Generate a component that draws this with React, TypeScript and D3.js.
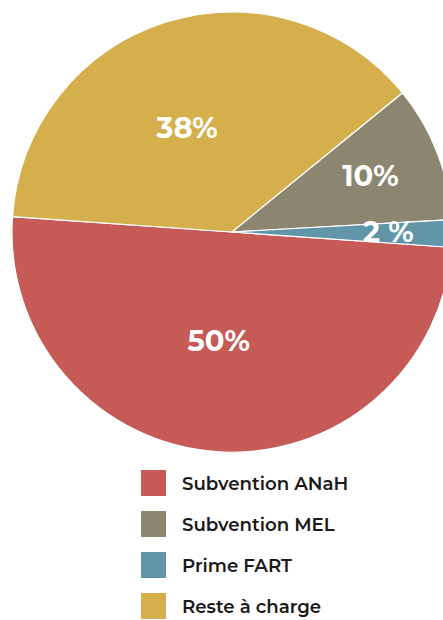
import React from "react";
import * as d3 from "d3";

const categories = ["Subvention ANaH", "Subvention MEL", "Prime FART", "Reste à charge"];
const values = [50, 10, 2, 38];
const sliceLabels = ["50%", "10%", "2 %", "38%"];
const colors = ["#C65A57", "#8C8670", "#6196A9", "#D4AF4C"];
// drawing order around the circle, clockwise from the red slice
const pieOrder = [0, 3, 1, 2];

const width = 443;
const height = 620;
const cx = 232;
const cy = 232;
const radius = 220;

const App: React.FC = () => {
  const ordered = pieOrder.map((i) => ({ i, value: values[i] }));
  const pie = d3
    .pie<{ i: number; value: number }>()
    .sort(null)
    .value((d) => d.value)
    .startAngle((94 * Math.PI) / 180)
    .endAngle((94 * Math.PI) / 180 + 2 * Math.PI);
  const arcs = pie(ordered);
  const arc = d3
    .arc<d3.PieArcDatum<{ i: number; value: number }>>()
    .innerRadius(0)
    .outerRadius(radius);

  // label placement: radius (fraction) and angle shift (deg) per slice
  const labelR: Record<number, number> = { 0: 0.495, 3: 0.515, 1: 0.68, 2: 0.71 };
  const labelShift: Record<number, number> = { 0: 3, 3: -5.8, 1: -1, 2: -0.4 };

  const legendY = d3.scalePoint<string>().domain(categories).range([483, 606]);

  return (
    <svg
      width={width}
      height={height}
      style={{ position: "absolute", left: 0, top: 0 }}
    >
      <g transform={`translate(${cx},${cy})`}>
        {arcs.map((a) => (
          <path
            key={a.data.i}
            d={arc(a) || ""}
            fill={colors[a.data.i]}
            stroke="#fff"
            strokeWidth={1.2}
          />
        ))}
        {arcs.map((a) => {
          const mid =
            (a.startAngle + a.endAngle) / 2 + (labelShift[a.data.i] * Math.PI) / 180;
          const r = radius * labelR[a.data.i];
          const x = Math.sin(mid) * r;
          const y = -Math.cos(mid) * r;
          return (
            <text
              key={"l" + a.data.i}
              x={x}
              y={y}
              dy="0.36em"
              textAnchor="middle"
              fill="#fff"
              fontFamily="Montserrat, 'Noto Sans', sans-serif"
              fontWeight={700}
              fontSize={29}
            >
              {sliceLabels[a.data.i]}
            </text>
          );
        })}
      </g>
      {categories.map((c, i) => (
        <g key={c} transform={`translate(141,${legendY(c)})`}>
          <rect x={0} y={-13} width={25} height={26} fill={colors[i]} />
          <text
            x={41}
            y={0}
            dy="0.36em"
            fill="#1a1a1a"
            fontFamily="Montserrat, 'Noto Sans', sans-serif"
            fontWeight={600}
            fontSize={18.2}
          >
            {c}
          </text>
        </g>
      ))}
    </svg>
  );
};

export default App;
